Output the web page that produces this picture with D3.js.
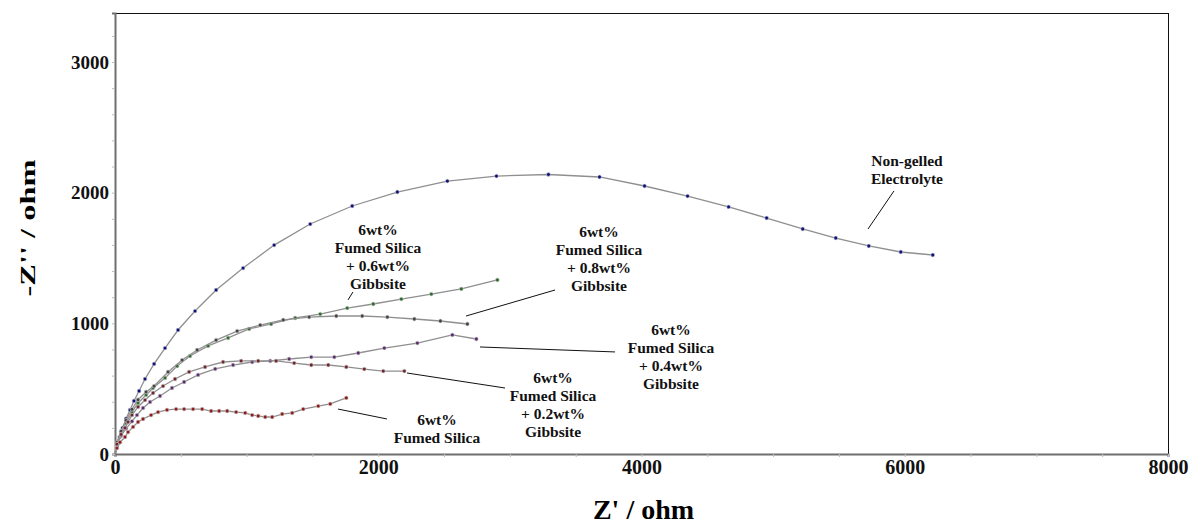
<!DOCTYPE html>
<html>
<head>
<meta charset="utf-8">
<title>Nyquist plot</title>
<style>
  body { margin: 0; background: #fff; }
  svg { display: block; font-family: "Liberation Serif", "Times New Roman", serif; }
</style>
</head>
<body>
<main></main>
<script src="https://d3js.org/d3.v7.min.js"></script>
<script>
// Z' (ohm), -Z'' (ohm) pairs
const nonGelled = [[0,0],[15,60],[35,130],[58,200],[84,270],[114,337],[144,406],[183,482],[228,574],[297,689],[380,811],[479,949],[608,1094],[768,1255],[973,1423],[1209,1599],[1483,1760],[1802,1898],[2145,2005],[2525,2089],[2898,2127],[3293,2139],[3681,2120],[4023,2051],[4350,1974],[4662,1891],[4951,1806],[5225,1722],[5476,1653],[5727,1592],[5970,1546],[6213,1523]];
const gib06 = [[0,0],[15,84],[46,161],[84,237],[129,321],[175,390],[236,452],[289,505],[380,582],[472,673],[570,750],[707,827],[859,888],[1019,957],[1186,995],[1369,1041],[1559,1071],[1764,1117],[1962,1148],[2175,1186],[2403,1224],[2631,1263],[2905,1332]];
const gib08 = [[0,0],[15,90],[46,175],[84,258],[129,342],[175,415],[236,475],[297,520],[403,628],[510,719],[624,796],[768,872],[928,941],[1103,987],[1278,1026],[1475,1048],[1681,1056],[1878,1056],[2069,1048],[2274,1033],[2472,1018],[2677,995]];
const gib04 = [[0,0],[15,70],[46,140],[84,195],[129,250],[167,298],[213,352],[266,398],[342,444],[433,505],[525,551],[631,605],[761,651],[897,681],[1042,704],[1179,712],[1323,727],[1491,742],[1666,742],[1848,773],[2046,811],[2297,849],[2563,911],[2745,880]];
const gib02 = [[0,0],[15,75],[46,150],[76,200],[99,245],[129,298],[175,360],[228,413],[289,467],[365,520],[456,574],[563,628],[684,666],[821,704],[958,712],[1088,712],[1224,712],[1361,696],[1491,681],[1620,681],[1757,666],[1894,650],[2038,635],[2198,635]];
const fumedSilica = [[0,0],[15,45],[38,90],[76,130],[99,168],[137,207],[175,245],[213,268],[274,298],[327,321],[395,337],[464,344],[525,344],[593,344],[662,344],[730,329],[791,329],[852,329],[920,321],[989,314],[1042,298],[1088,291],[1141,283],[1194,283],[1270,306],[1346,314],[1430,344],[1544,367],[1635,383],[1757,429]];

const seriesList = [
  { data: nonGelled, color: "#10107a" },
  { data: gib06, color: "#2f6a2f" },
  { data: gib08, color: "#444444" },
  { data: gib04, color: "#5b2d6b" },
  { data: gib02, color: "#6e2530" },
  { data: fumedSilica, color: "#8e1c1c" }
];

const xMajor = [0, 2000, 4000, 6000, 8000];
const yMajor = [0, 1000, 2000, 3000];

// label text lines, anchor (data units) and leader line (data units)
const notes = [
  { lines: ["6wt%", "Fumed Silica", "+ 0.6wt%", "Gibbsite"], at: [1998, 1714], lead: [[1770, 1179], [1808, 1240]] },
  { lines: ["6wt%", "Fumed Silica", "+ 0.8wt%", "Gibbsite"], at: [3677, 1699], lead: [[2667, 1056], [3343, 1255]] },
  { lines: ["6wt%", "Fumed Silica", "+ 0.4wt%", "Gibbsite"], at: [4224, 949], lead: [[2773, 819], [3799, 781]] },
  { lines: ["6wt%", "Fumed Silica", "+ 0.2wt%", "Gibbsite"], at: [3328, 582], lead: [[2218, 620], [2963, 505]] },
  { lines: ["6wt%", "Fumed Silica"], at: [2446, 260], lead: [[1694, 344], [2066, 268]] },
  { lines: ["Non-gelled", "Electrolyte"], at: [6017, 2242], lead: [[5918, 2013], [5721, 1722]] }
];

const width = 1189, height = 529;
const plotLeft = 115, plotRight = 1168, plotTop = 13, plotBottom = 454;

const x = d3.scaleLinear().domain([0, 8000]).range([plotLeft, plotRight]);
const y = d3.scaleLinear().domain([0, 3375]).range([plotBottom, plotTop]);

const svg = d3.select("main").append("svg")
  .attr("width", width)
  .attr("height", height);

// frame
svg.append("rect")
  .attr("x", plotLeft + 0.5).attr("y", plotTop + 0.5)
  .attr("width", plotRight - plotLeft).attr("height", plotBottom - plotTop)
  .attr("fill", "none").attr("stroke", "#111").attr("stroke-width", 1.3)
  .attr("shape-rendering", "crispEdges");

// minor ticks
const xAxisMinor = svg.append("g")
  .attr("transform", `translate(0,${plotBottom})`)
  .call(d3.axisBottom(x).tickValues(d3.range(0, 8001, 500)).tickSize(3).tickFormat(""));
const yAxisMinor = svg.append("g")
  .attr("transform", `translate(${plotLeft},0)`)
  .call(d3.axisLeft(y).tickValues(d3.range(0, 3375, 200)).tickSize(3).tickFormat(""));
[xAxisMinor, yAxisMinor].forEach(g => {
  g.select(".domain").attr("stroke", "#6f6f6f").attr("stroke-width", 2);
  g.selectAll(".tick line").attr("stroke", "#bbb");
});

// tick labels
const xAxis = svg.append("g")
  .attr("transform", `translate(0,${plotBottom})`)
  .call(d3.axisBottom(x).tickValues(xMajor).tickSize(0).tickPadding(6).tickFormat(d3.format("d")));
xAxis.select(".domain").remove();
xAxis.selectAll("text")
  .attr("font-family", "Liberation Serif, serif")
  .attr("font-size", 20).attr("font-weight", "bold").attr("fill", "#111");

const yAxis = svg.append("g")
  .attr("transform", `translate(${plotLeft - 4},0)`)
  .call(d3.axisLeft(y).tickValues(yMajor).tickSize(0).tickPadding(2).tickFormat(d3.format("d")));
yAxis.select(".domain").remove();
yAxis.selectAll("text")
  .attr("font-family", "Liberation Serif, serif")
  .attr("font-size", 19).attr("font-weight", "bold").attr("fill", "#111");

// axis titles
svg.append("text")
  .attr("x", (plotLeft + plotRight) / 2 + 2).attr("y", 519)
  .attr("text-anchor", "middle")
  .attr("font-size", 28).attr("font-weight", "bold")
  .text("Z' / ohm");

svg.append("text")
  .attr("transform", "translate(35,228) rotate(-90)")
  .attr("text-anchor", "middle")
  .attr("font-size", 22).attr("font-weight", "bold")
  .attr("textLength", 137).attr("lengthAdjust", "spacingAndGlyphs")
  .text("-Z'' / ohm");

// curves
const line = d3.line().x(d => x(d[0])).y(d => y(d[1]));

seriesList.forEach(s => {
  svg.append("path")
    .datum(s.data)
    .attr("fill", "none")
    .attr("stroke", "#8f8f8f")
    .attr("stroke-width", 1.3)
    .attr("d", line);
  svg.append("g")
    .selectAll("circle")
    .data(s.data.slice(1))
    .join("circle")
      .attr("cx", d => x(d[0]))
      .attr("cy", d => y(d[1]))
      .attr("r", 1.9)
      .attr("fill", s.color)
      .attr("stroke", "#cfcfcf")
      .attr("stroke-width", 0.6);
});

// annotations
notes.forEach(n => {
  svg.append("line")
    .attr("x1", x(n.lead[0][0])).attr("y1", y(n.lead[0][1]))
    .attr("x2", x(n.lead[1][0])).attr("y2", y(n.lead[1][1]))
    .attr("stroke", "#111").attr("stroke-width", 1);
  const t = svg.append("text")
    .attr("text-anchor", "middle")
    .attr("font-size", 15.5).attr("font-weight", "bold")
    .attr("fill", "#111");
  n.lines.forEach((l, i) => {
    t.append("tspan")
      .attr("x", x(n.at[0]))
      .attr("y", y(n.at[1]) + i * 18 + 5)
      .text(l);
  });
});
</script>
</body>
</html>
